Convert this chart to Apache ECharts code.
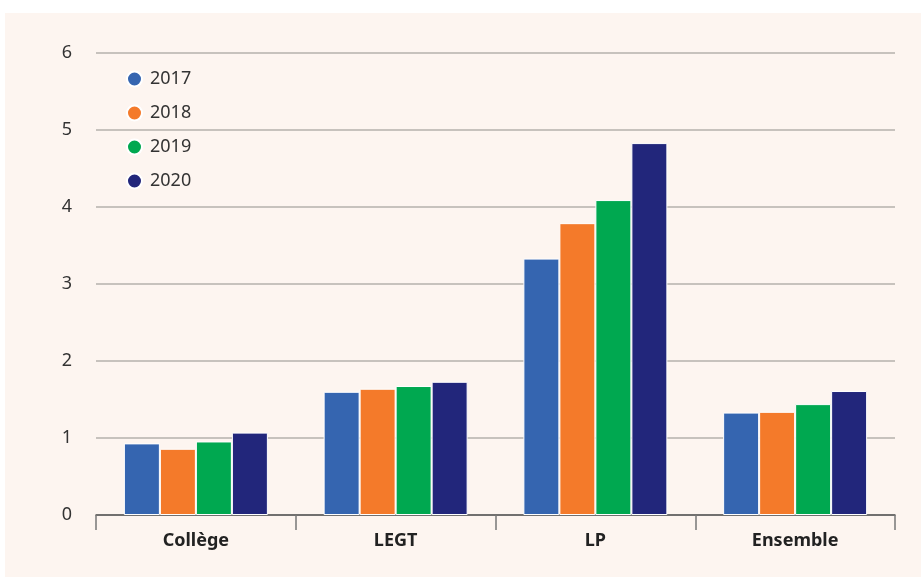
<!DOCTYPE html>
<html>
<head>
<meta charset="utf-8">
<script src="https://cdn.jsdelivr.net/npm/echarts@6/dist/echarts.min.js"></script>
<style>
html,body{margin:0;padding:0;background:#fff;}
#chart{width:921px;height:577px;}
</style>
</head>
<body>
<div id="chart"></div>
<script>
const categories = ['Collège', 'LEGT', 'LP', 'Ensemble'];
const years = ['2017', '2018', '2019', '2020'];
const values2017 = [0.93, 1.60, 3.33, 1.33];
const values2018 = [0.86, 1.64, 3.79, 1.34];
const values2019 = [0.955, 1.675, 4.09, 1.44];
const values2020 = [1.07, 1.73, 4.83, 1.61];
const yTicks = [0, 1, 2, 3, 4, 5, 6];
const colors = ['#3565b0', '#f47a2a', '#00a850', '#22267b'];

const seriesValues = [values2017, values2018, values2019, values2020];
const chart = echarts.init(document.getElementById('chart'));
const font = '"Noto Sans", sans-serif';
chart.setOption({
  backgroundColor: '#ffffff',
  animation: false,
  textStyle: {fontFamily: font},
  graphic: [{
    type: 'rect', left: 5, top: 13, z: -10,
    shape: {width: 916, height: 564},
    style: {fill: '#fdf5f0'}
  }],
  grid: {left: 96, right: 26, top: 53, bottom: 62, containLabel: false},
  legend: {
    orient: 'vertical', left: 126, top: 69, padding: 0,
    itemWidth: 15, itemHeight: 15, itemGap: 14,
    icon: 'circle',
    textStyle: {fontSize: 18, lineHeight: 20, color: '#333', fontFamily: font, padding: [0, 0, 0, 3]},
    data: years
  },
  xAxis: {
    type: 'category', data: categories,
    axisLine: {lineStyle: {color: '#555', width: 1.5}},
    axisTick: {show: true, length: 15, lineStyle: {color: '#777', width: 1.5}},
    axisLabel: {fontSize: 18, fontWeight: 'bold', color: '#222', margin: 17, fontFamily: font}
  },
  yAxis: {
    type: 'value', min: 0, max: 6, interval: 1,
    axisLine: {show: false}, axisTick: {show: false},
    axisLabel: {fontSize: 18, color: '#333', margin: 24, fontFamily: font,
      formatter: v => yTicks.includes(v) ? String(v) : ''},
    splitLine: {lineStyle: {color: '#b5b0ad', width: 1.5}}
  },
  series: years.map((y, i) => ({
    name: y, type: 'bar', data: seriesValues[i],
    barWidth: 36, barGap: '0%',
    itemStyle: {color: colors[i], borderColor: '#ffffff', borderWidth: 1}
  }))
});
</script>
</body>
</html>
